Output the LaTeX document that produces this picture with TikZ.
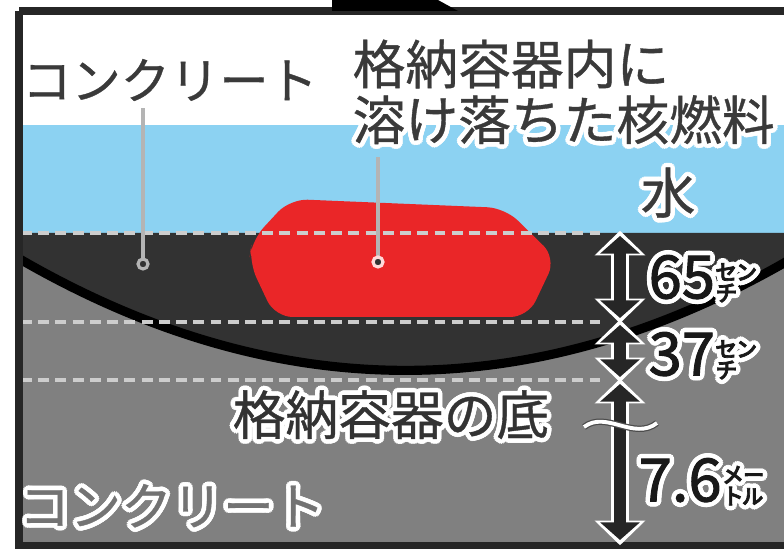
\documentclass[tikz,border=0pt]{standalone}
\usepackage{fontspec}
\setmainfont[FakeBold=0.7]{Noto Sans CJK JP}
\newfontfamily\numjp[FakeBold=1.6]{Noto Sans CJK JP}
\usepackage{contour}
\contourlength{1.3pt}
\usetikzlibrary{calc}
\usetikzlibrary{arrows.meta}
\usepackage{xcolor}
\definecolor{waterblue}{RGB}{140,210,242}
\definecolor{concretedark}{RGB}{50,50,50}
\definecolor{concretegray}{RGB}{128,128,128}
\definecolor{fuelred}{RGB}{234,38,40}
\definecolor{labelgray}{RGB}{58,58,58}
\definecolor{dashgray}{RGB}{205,205,205}
\definecolor{leadergray}{RGB}{180,180,180}

\begin{document}
\begin{tikzpicture}[x=0.01cm,y=-0.01cm]
\newcommand{\depthhalo}[2]{
  \draw[line width=5pt, white, shorten >=-1.5pt, shorten <=-1.5pt,
    arrows={Triangle[width=14pt,length=7pt]-Triangle[width=14pt,length=7pt]}] (#1) -- (#2);
}
\newcommand{\depthshaft}[2]{
  \draw[line width=3.2pt, black!85,
    arrows={Triangle[width=11pt,length=5pt]-Triangle[width=11pt,length=5pt]}] (#1) -- (#2);
}
\newcommand{\levelline}[2]{
  \draw[line width=1.1pt, dashgray, dash pattern=on 3.1pt off 1.8pt] (#1,#2) -- (600,#2);
}

\useasboundingbox (0,0) rectangle (784,549);
\fill[white] (0,0) rectangle (784,549);

% layers of the section
\begin{scope}
\clip (21,14) rectangle (784,543);
\fill[waterblue] (21,125) rectangle (784,233);
\fill[concretegray] (21,233) rectangle (784,543);
\fill[concretedark] (10,233) -- (790,233) -- (790,260) -- (784,263)
  .. controls (529,408) and (273,406) .. (18,258) -- (10,253) -- cycle;
\draw[line width=2.6pt, black] (8,251) -- (18,258)
  .. controls (273,406) and (529,408) .. (784,263) -- (795,256);

% molten fuel
\fill[fuelred, rounded corners=5pt] (290,199) -- (505,208) -- (556,258) -- (528,317)
  -- (275,317) -- (249,262) -- (252,240) -- cycle;

\levelline{21}{233}
\levelline{21}{322}
\levelline{21}{380}
\end{scope}

\draw[line width=2pt, black!85] (19,11) -- (800,11);
\draw[line width=2pt, black!85] (19,11) -- (19,546) -- (800,546);
\fill[black] (332,0) -- (438,0) -- (458,11) -- (332,11) -- cycle;

% labels
\node[inner sep=0pt, text=labelgray, font=\fontsize{14pt}{16pt}\selectfont] (concretetop) at (170,80) {コンクリート};
\node[inner sep=0pt, anchor=west, text=labelgray, font=\fontsize{15pt}{17pt}\selectfont] (fuellabelA) at (352,64) {格納容器内に};
\node[inner sep=0pt, anchor=west, text=labelgray, font=\fontsize{15pt}{17pt}\selectfont] (fuellabelB) at (352,122) {\contour{white}{溶け落ちた核燃料}};
\node[inner sep=0pt, text=labelgray, font=\fontsize{15.5pt}{17pt}\selectfont] (waterlabel) at (668,195) {\contour{white}{水}};
\node[inner sep=0pt, text=black!80, font=\fontsize{15pt}{17pt}\selectfont] (vesselbottom) at (391,417) {\contour{white}{格納容器の底}};
\node[inner sep=0pt, text=black!55, font=\fontsize{14.5pt}{17pt}\selectfont] (concretebottom) at (172,508) {\contour{white}{コンクリート}};

% leader lines
\coordinate (concretedot) at (143,264);
\coordinate (fueldot) at (378,262);
\draw[line width=1.2pt, leadergray] (concretedot) -- ($(concretedot |- concretetop.south)+(0,6)$);
\draw[line width=1.2pt, leadergray] (fueldot) -- ($(fueldot |- fuellabelB.south)+(0,8)$);
\draw[line width=0.9pt, leadergray, fill=concretedark] (concretedot) circle (5);
\draw[line width=0.9pt, white!85!red, fill=concretedark] (fueldot) circle (5);

% depth arrows
\coordinate (oneTop) at (620,236);
\coordinate (oneBot) at (620,318);
\coordinate (twoTop) at (620,325);
\coordinate (twoBot) at (620,377);
\coordinate (threeTop) at (620,384);
\coordinate (threeBot) at (620,540);
\depthhalo{oneTop}{oneBot}
\depthhalo{twoTop}{twoBot}
\depthhalo{threeTop}{threeBot}
\depthshaft{oneTop}{oneBot}
\depthshaft{twoTop}{twoBot}
\depthshaft{threeTop}{threeBot}

\coordinate (breakL) at (584,427);
\coordinate (breakR) at (657,423);
\draw[line width=1.8pt, black!70] (breakL) .. controls (606,410) and (634,441) .. (breakR);
\draw[line width=1.1pt, white] (breakL) .. controls (606,410) and (634,441) .. (breakR);

\node[inner sep=0pt, anchor=west, text=black!90, font=\numjp\fontsize{17pt}{19pt}\selectfont] (depthA) at (648,281) {\contour{white}{65{\fontsize{12pt}{14pt}\selectfont ㌢}}};
\node[inner sep=0pt, anchor=west, text=black!90, font=\numjp\fontsize{17pt}{19pt}\selectfont] (depthB) at (648,358) {\contour{white}{37{\fontsize{12pt}{14pt}\selectfont ㌢}}};
\node[inner sep=0pt, anchor=west, text=black!90, font=\numjp\fontsize{17pt}{19pt}\selectfont] (depthC) at (638,484) {\contour{white}{7.6{\fontsize{12pt}{14pt}\selectfont ㍍}}};

\end{tikzpicture}
\end{document}
